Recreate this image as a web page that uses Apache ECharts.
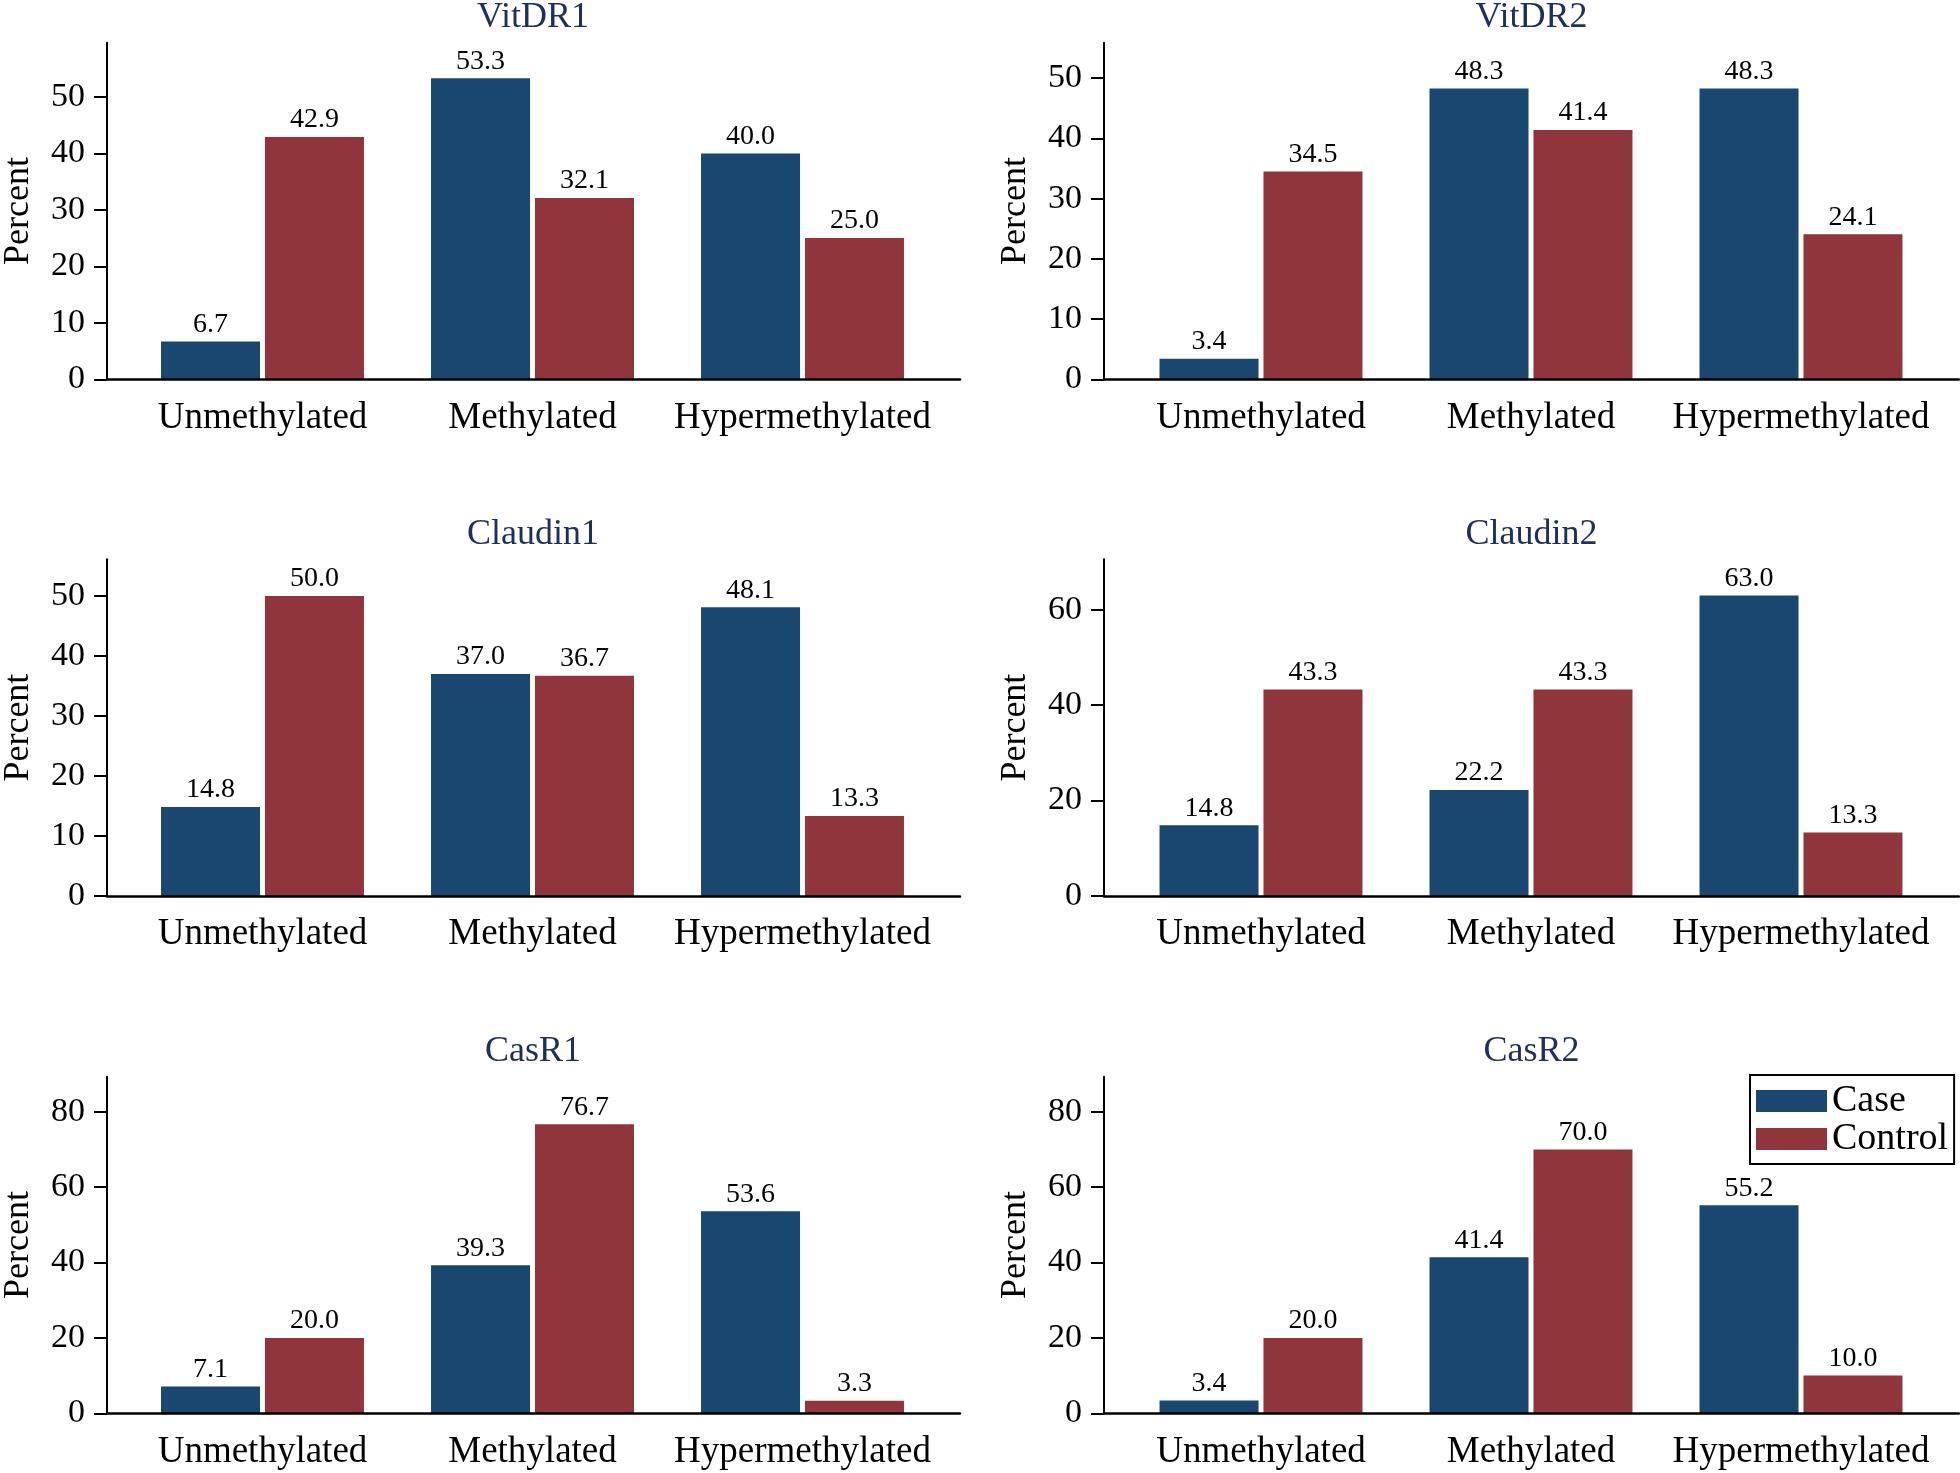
<!DOCTYPE html>
<html>
<head>
<meta charset="utf-8">
<script src="https://cdn.jsdelivr.net/npm/echarts@6/dist/echarts.min.js"></script>
<style>
html,body{margin:0;padding:0;background:#fff;}
#chart{width:1960px;height:1473px;}
</style>
</head>
<body>
<div id="chart"></div>
<script>
// ---- data ----
const categories = ['Unmethylated', 'Methylated', 'Hypermethylated'];
const panelTitles = ['VitDR1', 'VitDR2', 'Claudin1', 'Claudin2', 'CasR1', 'CasR2'];
const seriesNames = ['Case', 'Control'];
const caseValues = [
  [6.7, 53.3, 40.0],
  [3.4, 48.3, 48.3],
  [14.8, 37.0, 48.1],
  [14.8, 22.2, 63.0],
  [7.1, 39.3, 53.6],
  [3.4, 41.4, 55.2]
];
const controlValues = [
  [42.9, 32.1, 25.0],
  [34.5, 41.4, 24.1],
  [50.0, 36.7, 13.3],
  [43.3, 43.3, 13.3],
  [20.0, 76.7, 3.3],
  [20.0, 70.0, 10.0]
];
const yTicks = [
  [0, 10, 20, 30, 40, 50],
  [0, 10, 20, 30, 40, 50],
  [0, 10, 20, 30, 40, 50],
  [0, 20, 40, 60],
  [0, 20, 40, 60, 80],
  [0, 20, 40, 60, 80]
];
const yMax = [59.6, 55.9, 56.1, 70.6, 89.3, 89.3];

// ---- layout ----
const FONT = '"Liberation Serif", "DejaVu Serif", serif';
const colA = [[106, 960], [1104, 1959]];       // axis frame x-extent
const colB = [[127.5, 937.5], [1126, 1936]];   // category band extent
const rowTop = [42.7, 559.3, 1076.7];
const plotH = 336.6;
const titleTop = [0, 516.6, 1033.2];
const caseColor = '#1a476f';
const controlColor = '#90353b';

const grid = [], xAxis = [], yAxis = [], series = [], title = [];

panelTitles.forEach((name, i) => {
  const c = i % 2, r = Math.floor(i / 2);
  const gA = grid.length;
  grid.push({left: colA[c][0], width: colA[c][1] - colA[c][0], top: rowTop[r], height: plotH, containLabel: false});
  const gB = grid.length;
  grid.push({left: colB[c][0], width: colB[c][1] - colB[c][0], top: rowTop[r], height: plotH, containLabel: false});

  title.push({
    text: name,
    left: (colA[c][0] + colA[c][1]) / 2,
    top: titleTop[r],
    textAlign: 'center',
    padding: 0,
    textStyle: {fontFamily: FONT, fontSize: 36, fontWeight: 'normal', color: '#1c2f5f'}
  });

  // frame axes (grid A)
  const xA = xAxis.length;
  xAxis.push({
    type: 'value', gridIndex: gA, min: 0, max: 1, z: 5,
    axisLine: {show: true, onZero: false, lineStyle: {color: '#000', width: 2.5}},
    axisTick: {show: false}, axisLabel: {show: false}, splitLine: {show: false}
  });
  const yA = yAxis.length;
  yAxis.push({
    type: 'value', gridIndex: gA, min: 0, max: yMax[i], z: 5,
    name: 'Percent', nameLocation: 'middle', nameGap: 70,
    nameTextStyle: {fontFamily: FONT, fontSize: 36, color: '#000'},
    axisLine: {show: true, onZero: false, lineStyle: {color: '#000', width: 2}},
    axisTick: {show: true, length: 13, inside: false, customValues: yTicks[i], lineStyle: {color: '#000', width: 2}},
    axisLabel: {show: true, customValues: yTicks[i], margin: 22, fontFamily: FONT, fontSize: 34, color: '#000'},
    splitLine: {show: false}
  });

  // category axes (grid B)
  const xB = xAxis.length;
  xAxis.push({
    type: 'category', gridIndex: gB, data: categories,
    axisLine: {show: false}, axisTick: {show: false},
    axisLabel: {margin: 20, fontFamily: FONT, fontSize: 37, color: '#000', interval: 0}
  });
  const yB = yAxis.length;
  yAxis.push({type: 'value', gridIndex: gB, min: 0, max: yMax[i], show: false});

  [caseValues[i], controlValues[i]].forEach((vals, k) => {
    series.push({
      type: 'bar', name: seriesNames[k], xAxisIndex: xB, yAxisIndex: yB,
      data: vals, barWidth: 99, barGap: '5%',
      itemStyle: {color: k === 0 ? caseColor : controlColor},
      label: {
        show: true, position: 'top', distance: 3,
        fontFamily: FONT, fontSize: 28, color: '#000',
        formatter: p => Number(p.value).toFixed(1)
      },
      emphasis: {disabled: true}
    });
  });
});

const chart = echarts.init(document.getElementById('chart'), null, {renderer: 'canvas'});
chart.setOption({
  animation: false,
  backgroundColor: '#fff',
  title: title,
  grid: grid,
  xAxis: xAxis,
  yAxis: yAxis,
  series: series,
  legend: {
    data: seriesNames,
    orient: 'vertical',
    left: 1750, top: 1075,
    padding: [7, 6, 6, 6],
    itemGap: 0,
    itemWidth: 71, itemHeight: 22,
    icon: 'rect',
    borderColor: '#000', borderWidth: 2, backgroundColor: '#fff',
    textStyle: {fontFamily: FONT, fontSize: 38, color: '#000', lineHeight: 37}
  }
});
</script>
</body>
</html>
